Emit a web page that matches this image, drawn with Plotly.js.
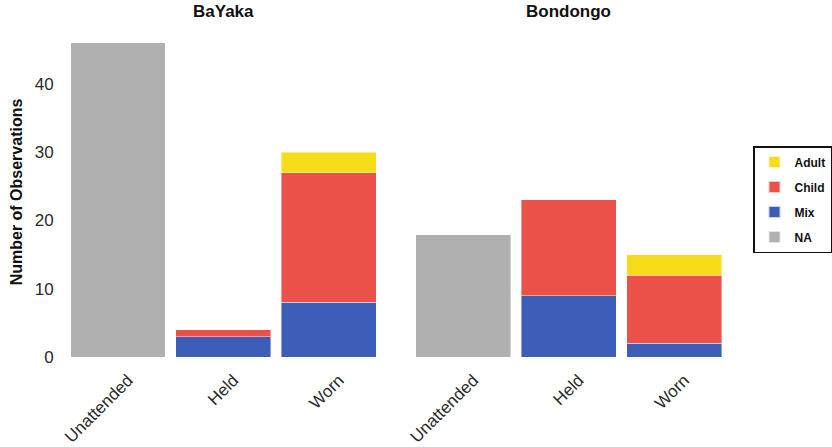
<!DOCTYPE html>
<html>
<head>
<meta charset="utf-8">
<script src="https://cdn.plot.ly/plotly-3.0.1.min.js"></script>
<style>html,body{margin:0;padding:0;background:#fff}#chart{width:832px;height:447px}</style>
</head>
<body>
<div id="chart"></div>
<script>
const categories = ['Unattended', 'Held', 'Worn'];
const facets = ['BaYaka', 'Bondongo'];
const seriesNames = ['NA', 'Mix', 'Child', 'Adult'];
const legendOrder = ['Adult', 'Child', 'Mix', 'NA'];
const colors = {NA: '#B0B0B0', Mix: '#3C5EB8', Child: '#EB5049', Adult: '#F7DC1A'};

// values per facet, per category [Unattended, Held, Worn]
const bayakaNA    = [46, 0, 0];
const bayakaMix   = [0, 3, 8];
const bayakaChild = [0, 1, 19];
const bayakaAdult = [0, 0, 3];

const bondongoNA    = [18, 0, 0];
const bondongoMix   = [0, 9, 2];
const bondongoChild = [0, 14, 10];
const bondongoAdult = [0, 0, 3];

const facetData = [
  {NA: bayakaNA, Mix: bayakaMix, Child: bayakaChild, Adult: bayakaAdult},
  {NA: bondongoNA, Mix: bondongoMix, Child: bondongoChild, Adult: bondongoAdult}
];

const traces = [];
facetData.forEach((fd, i) => {
  seriesNames.forEach(s => {
    const t = {
      type: 'bar',
      name: s,
      showlegend: i === 0,
      x: categories,
      y: fd[s],
      xaxis: i === 0 ? 'x' : 'x2',
      yaxis: i === 0 ? 'y' : 'y2',
      marker: {color: colors[s], line: {color: 'rgba(255,255,255,0.7)', width: 0.6}},
      hoverinfo: 'x+y+name'
    };
    if (i === 0) {
      t.legendgroup = s;
      t.legendrank = 1000 + legendOrder.indexOf(s);
    }
    traces.push(t);
  });
});

const W = 832;
const font = {family: 'Liberation Sans, Arial, sans-serif', color: '#222'};
const xCommon = {
  type: 'category', showgrid: false, zeroline: false, showline: false,
  ticks: '', tickangle: -45, tickfont: {size: 17, color: '#2a2a2a'},
  ticklabelstandoff: 9, ticklabelshift: 10,
  range: [-0.6, 2.6], automargin: false
};
const yCommon = {
  range: [0, 48.3], showgrid: false, zeroline: false, showline: false,
  ticks: '', tickvals: [0, 10, 20, 30, 40], tickfont: {size: 17, color: '#2a2a2a'},
  automargin: false
};

const layout = {
  width: 832, height: 447,
  margin: {l: 0, r: 0, t: 27, b: 90},
  paper_bgcolor: '#fff', plot_bgcolor: '#fff',
  font: font,
  barmode: 'stack', bargap: 0.1,
  xaxis: Object.assign({}, xCommon, {domain: [55 / W, 394 / W], anchor: 'y'}),
  xaxis2: Object.assign({}, xCommon, {domain: [402 / W, 741 / W], anchor: 'y2'}),
  yaxis: Object.assign({}, yCommon, {
    anchor: 'x',
    title: {text: '<b>Number of Observations</b>', font: {size: 16, color: '#111'}, standoff: 8}
  }),
  yaxis2: Object.assign({}, yCommon, {anchor: 'x2', matches: 'y', showticklabels: false}),
  legend: {
    x: 757 / W, xanchor: 'left', y: 1 - (146 - 27) / 330, yanchor: 'top',
    traceorder: 'grouped',
    bordercolor: '#111', borderwidth: 1.5, bgcolor: '#fff',
    font: {size: 12, color: '#111', family: 'Liberation Sans, Arial, sans-serif', weight: 'bold'},
    tracegroupgap: 6, itemsizing: 'constant'
  },
  annotations: [
    {text: '<b>' + facets[0] + '</b>', xref: 'paper', yref: 'paper', xanchor: 'center',
     x: (55 + 394) / 2 / W, y: 1, yshift: 4, showarrow: false, yanchor: 'bottom',
     font: {size: 17, color: '#111'}},
    {text: '<b>' + facets[1] + '</b>', xref: 'paper', yref: 'paper', xanchor: 'center',
     x: (402 + 741) / 2 / W, y: 1, yshift: 4, showarrow: false, yanchor: 'bottom',
     font: {size: 17, color: '#111'}}
  ]
};

Plotly.newPlot('chart', traces, layout, {displayModeBar: false, staticPlot: true});
</script>
</body>
</html>
